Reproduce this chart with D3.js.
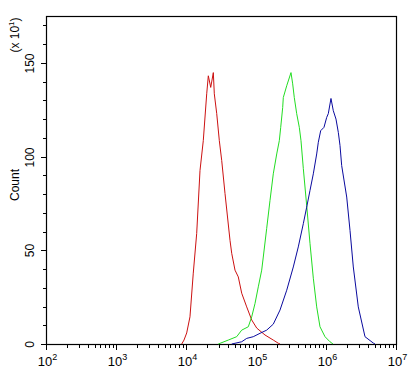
<!DOCTYPE html>
<html><head><meta charset="utf-8">
<script src="https://cdn.jsdelivr.net/npm/d3@7/dist/d3.min.js"></script>
<style>body{margin:0;background:#fff}svg{display:block}text{font-family:"Liberation Sans",Arial,sans-serif;fill:#000}</style>
</head><body><svg id="c" width="418" height="373"></svg>
<script>
// Data: fluorescence intensity (x) and count (x10^1)
const redX = [8690,9360,10230,11400,12700,14220,15850,17660,19760,20840,22550,24560,25370,27470,29930,32370,36070,42530,44980,50120,55850,62500,73620,86900,102400,134500,176600,208500,220300];
const redY = [0,2.1,5.9,14.5,37.8,59,92.6,108.5,133.5,143.1,136.9,144.8,133.5,122.9,108.5,97.9,80.3,55.3,48.4,39.4,35.8,27.1,19.8,12.8,8.5,4.8,2.1,0.4,0];
const greenX = [28910,40180,52970,62480,77620,86840,96800,107900,120600,127100,142200,158500,176600,197700,215300,225400,240600,245500,274700,316200,334200,352400,381300,415600,439300,474200,529700,590500,659000,736200,820600,968000,1140000,1259000];
const greenY = [0,2.1,3.9,7.4,9.2,14.5,21.6,30.5,39.4,46.4,61.7,76.6,90.8,101.4,108.5,115.6,126.2,131.5,137.8,144.8,138.8,131.5,122.9,115.6,108.5,93.6,73.9,53.7,35.1,19.8,9.2,3.9,1.2,0];
const blueX = [44980,62480,73620,91430,114000,142200,176600,220300,274700,341200,402000,474200,529700,590500,659000,736200,776200,839500,935800,1023000,1079000,1178000,1271000,1389000,1500000,1585000,1675000,1976000,2203000,2455000,2893000,3606000,4743000,5012000];
const blueY = [0,1.2,3.0,3.9,5.7,7.4,10.6,18.1,28.7,41.1,51.8,64.2,73.0,81.9,90.8,101.4,107.6,113.8,115.6,120.9,122.9,131.0,124.5,120.0,112.9,105.9,95.2,78.4,60.6,41.1,19.8,3.9,0.5,0];
const xTickExps = [2,3,4,5,6,7];
const yMajorTicks = [0,50,100,150];
const yMinorTicks = d3.range(0,171,10);
const seriesColors = ["#cc1111","#22dd22","#0a0a9e"];

const svg = d3.select("#c");
const L=46,R=396,T=16,B=344;
const x = d3.scaleLog().domain([1e2,1e7]).range([L,R]);
const y = d3.scaleLinear().domain([0,175]).range([B,T]);

// frame
svg.append("rect").attr("x",L+0.5).attr("y",T+0.5).attr("width",R-L).attr("height",B-T)
  .attr("fill","none").attr("stroke","#000").attr("stroke-width",1.2);

// series
const line = d3.line().x(d=>x(d[0])).y(d=>y(d[1]));
const series = [[redX,redY],[greenX,greenY],[blueX,blueY]];
series.forEach((s,i)=>{
  const pts = s[0].map((v,j)=>[v,s[1][j]]);
  svg.append("path").attr("d",line(pts)).attr("fill","none")
    .attr("stroke",seriesColors[i]).attr("stroke-width",1);
});

// x ticks
const gx = svg.append("g");
for(let e=2;e<7;e++){
  for(let m=2;m<=9;m++){
    const px = Math.round(x(m*Math.pow(10,e)))+0.5;
    gx.append("line").attr("x1",px).attr("x2",px).attr("y1",B).attr("y2",B+4).attr("stroke","#000");
  }
}
xTickExps.forEach(e=>{
  const px = Math.round(x(Math.pow(10,e)))+0.5;
  gx.append("line").attr("x1",px).attr("x2",px).attr("y1",B).attr("y2",B+6).attr("stroke","#000");
  const t = gx.append("text").attr("x",px+1).attr("y",366).attr("text-anchor","middle").attr("font-size",13);
  t.append("tspan").text("10");
  t.append("tspan").attr("dy",-6).attr("font-size",9).text(e);
});

// y ticks
const gy = svg.append("g");
yMinorTicks.forEach(v=>{
  const py = Math.round(y(v))+0.5;
  gy.append("line").attr("x1",L-3).attr("x2",L).attr("y1",py).attr("y2",py).attr("stroke","#000");
});
yMajorTicks.forEach(v=>{
  const py = Math.round(y(v))+0.5;
  gy.append("line").attr("x1",L-5).attr("x2",L).attr("y1",py).attr("y2",py).attr("stroke","#000");
  gy.append("text").attr("transform",`translate(34,${py}) rotate(-90)`).attr("text-anchor","middle")
    .attr("font-size",12).text(v);
});

// axis titles
svg.append("text").attr("transform","translate(19,185) rotate(-90)").attr("text-anchor","middle")
  .attr("font-size",12).text("Count");
const ut = svg.append("text").attr("transform","translate(19,35) rotate(-90)").attr("text-anchor","middle").attr("font-size",12);
ut.append("tspan").text("(x 10");
ut.append("tspan").attr("dy",-5).attr("font-size",8).text("1");
ut.append("tspan").attr("dy",5).text(")");
</script></body></html>
